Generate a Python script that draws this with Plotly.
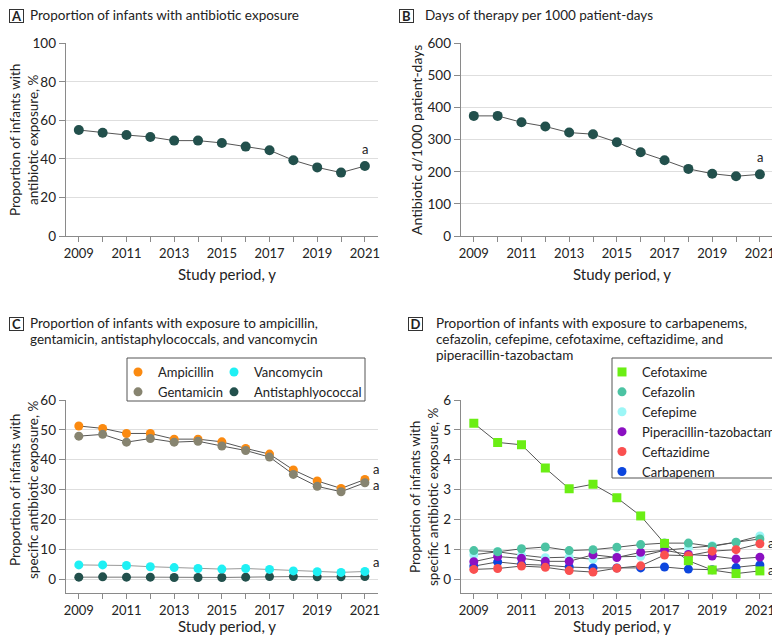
import plotly.graph_objects as go

# ---- data ----
years = list(range(2009, 2022))
year_labels = [str(y) if y % 2 == 1 else "" for y in years]

# A: proportion of infants with any antibiotic exposure, %
any_exposure = [55.0, 53.6, 52.4, 51.4, 49.5, 49.5, 48.3, 46.4, 44.5, 39.3, 35.6, 32.9, 36.3]
# B: antibiotic days per 1000 patient-days
dot_rate = [374, 374, 354, 341, 322, 317, 292, 261, 236, 209, 194, 186, 192]

# C: specific exposure, %
ampicillin = [51.3, 50.5, 48.8, 48.8, 46.9, 46.9, 46.0, 43.8, 41.9, 36.6, 32.9, 30.4, 33.4]
gentamicin = [47.9, 48.5, 45.9, 47.1, 45.9, 46.2, 44.6, 43.1, 40.9, 35.1, 31.1, 29.3, 32.3]
vancomycin = [4.8, 4.8, 4.6, 4.2, 3.9, 3.6, 3.4, 3.6, 3.3, 2.8, 2.5, 2.3, 2.6]
antistaph = [0.7, 0.8, 0.7, 0.7, 0.6, 0.6, 0.6, 0.7, 0.9, 0.9, 0.8, 0.8, 0.9]

# D: specific exposure, %
cefotaxime = [5.22, 4.58, 4.50, 3.72, 3.03, 3.18, 2.73, 2.12, 1.20, 0.62, 0.31, 0.19, 0.28]
cefazolin = [0.96, 0.92, 1.02, 1.08, 0.96, 0.99, 1.07, 1.16, 1.21, 1.21, 1.10, 1.24, 1.35]
cefepime = [0.82, 0.92, 0.81, 0.72, 0.74, 0.67, 0.75, 0.77, 0.97, 1.05, 1.12, 1.24, 1.45]
piptazo = [0.59, 0.76, 0.70, 0.60, 0.60, 0.82, 0.73, 0.90, 0.97, 0.83, 0.78, 0.68, 0.74]
ceftazidime = [0.33, 0.36, 0.44, 0.40, 0.29, 0.24, 0.37, 0.45, 0.81, 0.79, 0.94, 0.99, 1.19]
carbapenem = [0.44, 0.58, 0.50, 0.47, 0.41, 0.38, 0.38, 0.38, 0.41, 0.34, 0.32, 0.39, 0.48]

# ---- styling ----
# the page body has an 8px margin, so the figure is 8px smaller and
# all layout positions below are given in window pixels
OFF = 8
W, H = 780 - OFF, 636 - OFF
FONT = "Lato"
TXT = "#222222"
LINE = "#555555"
AXIS = "#8a8a8a"
GRID = "#dedede"
DARK = "#22504c"


def px(x):
    return (x - OFF) / W


def py(y):
    return 1 - (y - OFF) / H


fig = go.Figure()


def series(name, y, color, xa, ya, symbol="circle", size=10, legend=None, rank=None, lc=LINE):
    # thin connecting line first, then the dots (so the legend shows dots only)
    fig.add_trace(go.Scatter(x=years, y=y, mode="lines", line=dict(color=lc, width=1),
                             xaxis=xa, yaxis=ya, showlegend=False, hoverinfo="skip"))
    fig.add_trace(go.Scatter(
        x=years, y=y, name=name, mode="markers",
        marker=dict(color=color, size=size, symbol=symbol, line=dict(width=0)),
        xaxis=xa, yaxis=ya,
        showlegend=legend is not None,
        legend=legend if legend else "legend",
        legendrank=rank if rank else 1000,
    ))


series("A", any_exposure, DARK, "x", "y")
series("B", dot_rate, DARK, "x2", "y2")

series("Antistaphlyococcal", antistaph, DARK, "x3", "y3", size=9, legend="legend2", rank=2, lc="#777777")
series("Vancomycin", vancomycin, "#1ff0f4", "x3", "y3", size=9, legend="legend2", rank=1, lc="#999999")
series("Ampicillin", ampicillin, "#fb8a10", "x3", "y3", size=9, legend="legend", rank=1)
series("Gentamicin", gentamicin, "#878470", "x3", "y3", size=9, legend="legend", rank=2)

series("Cefepime", cefepime, "#9cf6f6", "x4", "y4", size=9, legend="legend3", rank=3)
series("Carbapenem", carbapenem, "#0c46de", "x4", "y4", size=9, legend="legend3", rank=6)
series("Piperacillin-tazobactam", piptazo, "#8b10c2", "x4", "y4", size=9, legend="legend3", rank=4)
series("Cefazolin", cefazolin, "#4cc3a3", "x4", "y4", size=9, legend="legend3", rank=2)
series("Ceftazidime", ceftazidime, "#fa5050", "x4", "y4", size=9, legend="legend3", rank=5)
series("Cefotaxime", cefotaxime, "#6bee14", "x4", "y4", symbol="square", size=9, legend="legend3", rank=1)

xrange = [2008.45, 2021.55]
left_dom = [px(65.7), px(378)]
right_dom = [px(460.7), px(773)]
top_dom = [py(236), py(43.3)]
bot_dom = [py(593), py(400)]


def xax(dom, anchor):
    return dict(domain=dom, anchor=anchor, range=xrange, tickvals=years, ticktext=year_labels,
                ticks="outside", ticklen=5, tickcolor=AXIS, showline=True, linecolor=AXIS,
                showgrid=False, zeroline=False, tickfont=dict(size=13, color=TXT))


def yax(dom, anchor, rng, dtick):
    return dict(domain=dom, anchor=anchor, range=rng, dtick=dtick, tick0=0,
                ticks="outside", ticklen=6, tickcolor=AXIS, showline=True, linecolor=AXIS,
                showgrid=True, gridcolor=GRID, gridwidth=1, zeroline=False,
                tickfont=dict(size=13.5, color=TXT))


annotations = []
shapes = []


def text(x, y, t, size=13.5, xanchor="left", yanchor="middle", angle=0, **kw):
    annotations.append(dict(x=px(x), y=py(y), xref="paper", yref="paper", text=t, showarrow=False,
                            xanchor=xanchor, yanchor=yanchor, textangle=angle, borderpad=0,
                            font=dict(size=size, color=TXT, family=FONT), **kw))


def letter(x, y, t):
    annotations.append(dict(x=px(x), y=py(y), xref="paper", yref="paper", text="<b>%s</b>" % t,
                            showarrow=False, xanchor="center", yanchor="middle",
                            width=13, height=12, borderpad=0, bordercolor="#333333", borderwidth=1,
                            font=dict(size=13, color=TXT, family=FONT)))


def mark_a(xa, ya, y, xshift=0, yshift=0):
    annotations.append(dict(x=2021, y=y, xref=xa, yref=ya, text="a", showarrow=False,
                            xshift=xshift, yshift=yshift, xanchor="center", yanchor="middle",
                            font=dict(size=13, color=TXT, family=FONT)))


# panel titles
letter(16.5, 16, "A")
text(29, 15, "Proportion of infants with antibiotic exposure")
letter(406, 16, "B")
text(424, 15, "Days of therapy per 1000 patient-days")
letter(16.5, 324, "C")
text(29, 323, "Proportion of infants with exposure to ampicillin,")
text(29, 339, "gentamicin, antistaphylococcals, and vancomycin")
letter(415, 324, "D")
text(435, 323, "Proportion of infants with exposure to carbapenems,")
text(435, 339, "cefazolin, cefepime, cefotaxime, ceftazidime, and")
text(435, 355, "piperacillin-tazobactam")

# axis titles
text(24, 140, "Proportion of infants with<br>antibiotic exposure, %", size=13.5, xanchor="center", angle=-90)
text(417, 140, "Antibiotic d/1000 patient-days", size=14, xanchor="center", angle=-90)
text(24, 490, "Proportion of infants with<br>specific antibiotic exposure, %", size=13.5, xanchor="center", angle=-90)
text(424, 497, "Proportion of infants with<br>specific antibiotic exposure, %", size=13.5, xanchor="center", angle=-90)
for cx, cy in [(227, 274), (622, 274), (227, 626), (622, 626)]:
    text(cx, cy, "Study period, y", size=15, xanchor="center")

# footnote markers
mark_a("x", "y", any_exposure[-1], yshift=17)
mark_a("x2", "y2", dot_rate[-1], yshift=17)
mark_a("x3", "y3", ampicillin[-1], xshift=11, yshift=10)
mark_a("x3", "y3", gentamicin[-1], xshift=11, yshift=-2)
mark_a("x3", "y3", vancomycin[-1], xshift=11, yshift=9)
mark_a("x4", "y4", cefepime[-1], xshift=11, yshift=-7)
mark_a("x4", "y4", cefotaxime[-1], xshift=11, yshift=1)

# legend boxes
shapes.append(dict(type="rect", xref="paper", yref="paper", x0=px(127), x1=px(365), y0=py(401), y1=py(358),
                   line=dict(color="#555555", width=1), fillcolor="white", layer="above"))
shapes.append(dict(type="rect", xref="paper", yref="paper", x0=px(612), x1=px(779), y0=py(478), y1=py(358),
                   line=dict(color="#555555", width=1), fillcolor="white", layer="above"))

leg_common = dict(bgcolor="rgba(0,0,0,0)", borderwidth=0, xanchor="left", yanchor="top",
                  font=dict(size=13, color=TXT, family=FONT), tracegroupgap=0,
                  traceorder="normal", itemclick=False)

fig.update_layout(
    width=W, height=H,
    margin=dict(l=0, r=0, t=0, b=0, autoexpand=False),
    paper_bgcolor="white", plot_bgcolor="white",
    font=dict(family=FONT, color=TXT, size=13),
    xaxis=xax(left_dom, "y"), yaxis=yax(top_dom, "x", [0, 100], 20),
    xaxis2=xax(right_dom, "y2"), yaxis2=yax(top_dom, "x2", [0, 600], 100),
    xaxis3=xax(left_dom, "y3"), yaxis3=yax(bot_dom, "x3", [-4.6, 60], 10),
    xaxis4=xax(right_dom, "y4"), yaxis4=yax(bot_dom, "x4", [-0.46, 6], 1),
    legend=dict(x=px(118), y=py(357), **leg_common),
    legend2=dict(x=px(214), y=py(357), **leg_common),
    legend3=dict(x=px(602), y=py(357), **leg_common),
    annotations=annotations,
    shapes=shapes,
)

fig.write_html("out.html")
